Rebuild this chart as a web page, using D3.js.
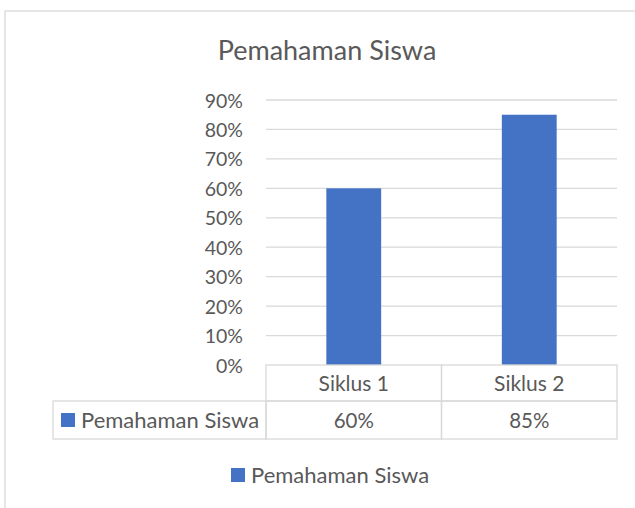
<!DOCTYPE html>
<html>
<head>
	<meta charset="utf-8">
	<title>Pemahaman Siswa</title>
	<style>
		body { margin: 0; background: #fff; }
		text { font-family: Lato, "Open Sans", sans-serif; fill: #595959; }
		.grid line { stroke: #d9d9d9; stroke-width: 1.3; }
		.cell { fill: none; stroke: #d9d9d9; stroke-width: 1.3; }
	</style>
</head>
<body>
	<svg id="container" width="635" height="508"></svg>
</body>
<script src="https://d3js.org/d3.v7.min.js"></script>
<script>
	let categories = ["Siklus 1", "Siklus 2"]
	let values = [0.60, 0.85]
	let seriesName = "Pemahaman Siswa"
	let yTicks = [0, 0.1, 0.2, 0.3, 0.4, 0.5, 0.6, 0.7, 0.8, 0.9]

	let svg = d3.select("#container")
	let color = "#4472C4"

	// outer chart border
	svg.append("rect")
		.attr("x", 5).attr("y", 11)
		.attr("width", 660).attr("height", 520)
		.attr("fill", "none")
		.attr("stroke", "#d9d9d9")
		.attr("stroke-width", 1.3)

	svg.append("text")
		.attr("x", 327).attr("y", 60)
		.attr("text-anchor", "middle")
		.style("font-size", "27px")
		.text(seriesName)

	let plotLeft = 266, plotRight = 617, plotTop = 100, plotBottom = 365

	let x = d3.scaleBand()
		.domain(categories)
		.range([plotLeft, plotRight])
		.paddingInner(0.6875)
		.paddingOuter(0.34375)

	let y = d3.scaleLinear()
		.domain([0, 0.9])
		.range([plotBottom, plotTop])

	// gridlines
	svg.append("g")
		.attr("class", "grid")
		.selectAll("line")
		.data(yTicks.filter(d => d > 0))
		.enter()
		.append("line")
		.attr("x1", plotLeft).attr("x2", plotRight)
		.attr("y1", d => y(d)).attr("y2", d => y(d))

	// y labels
	svg.append("g")
		.selectAll("text")
		.data(yTicks)
		.enter()
		.append("text")
		.attr("x", 243)
		.attr("y", d => y(d) + 7.5)
		.attr("text-anchor", "end")
		.style("font-size", "19.5px")
		.text(d3.format(".0%"))

	// bars
	svg.append("g")
		.selectAll("rect")
		.data(values)
		.enter()
		.append("rect")
		.attr("x", (d, i) => x(categories[i]))
		.attr("y", d => y(d))
		.attr("width", x.bandwidth())
		.attr("height", d => y(0) - y(d))
		.attr("fill", color)

	// data table
	let rowH1 = 36, rowH2 = 38
	let step = (plotRight - plotLeft) / categories.length
	let table = svg.append("g")
	categories.forEach((c, i) => {
		let cx = plotLeft + step * i
		table.append("rect").attr("class", "cell")
			.attr("x", cx).attr("y", plotBottom)
			.attr("width", step).attr("height", rowH1)
		table.append("rect").attr("class", "cell")
			.attr("x", cx).attr("y", plotBottom + rowH1)
			.attr("width", step).attr("height", rowH2)
		table.append("text")
			.attr("x", cx + step / 2).attr("y", plotBottom + 26)
			.attr("text-anchor", "middle")
			.style("font-size", "21px")
			.text(c)
		table.append("text")
			.attr("x", cx + step / 2).attr("y", plotBottom + rowH1 + 27)
			.attr("text-anchor", "middle")
			.style("font-size", "20.5px")
			.text(d3.format(".0%")(values[i]))
	})
	table.append("rect").attr("class", "cell")
		.attr("x", 53).attr("y", plotBottom + rowH1)
		.attr("width", plotLeft - 53).attr("height", rowH2)
	table.append("rect")
		.attr("x", 61).attr("y", 413)
		.attr("width", 14).attr("height", 14)
		.attr("fill", color)
	table.append("text")
		.attr("x", 81).attr("y", 428)
		.style("font-size", "22px")
		.text(seriesName)

	// legend
	svg.append("rect")
		.attr("x", 231).attr("y", 468)
		.attr("width", 14).attr("height", 14)
		.attr("fill", color)
	svg.append("text")
		.attr("x", 251).attr("y", 483)
		.style("font-size", "22px")
		.text(seriesName)
</script>
</html>
